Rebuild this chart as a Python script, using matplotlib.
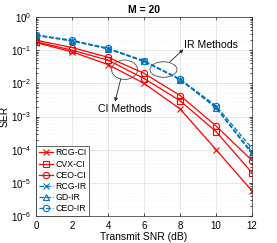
import numpy as np
import matplotlib
matplotlib.use("Agg")
import matplotlib.pyplot as plt
from matplotlib.patches import Ellipse

plt.rcParams['font.family'] = ['Liberation Sans', 'DejaVu Sans']

snr = [0, 2, 4, 6, 8, 10, 12]
rcg_ci = [0.17, 0.089, 0.037, 0.010, 0.0017, 1.0e-4, 5.7e-6]
cvx_ci = [0.18, 0.10, 0.050, 0.014, 0.0030, 3.5e-4, 2.0e-5]
ceo_ci = [0.20, 0.12, 0.061, 0.020, 0.0043, 5.2e-4, 4.7e-5]
rcg_ir = [0.28, 0.19, 0.11, 0.046, 0.013, 0.0019, 8.3e-5]
gd_ir = [0.28, 0.19, 0.11, 0.046, 0.013, 0.0018, 7.4e-5]
ceo_ir = [0.29, 0.20, 0.115, 0.048, 0.0135, 0.0021, 1.1e-4]
labels = ['RCG-CI', 'CVX-CI', 'CEO-CI', 'RCG-IR', 'GD-IR', 'CEO-IR']

red = (1, 0, 0)
blue = (0, 0.447, 0.741)

fig = plt.figure(figsize=(2.77, 2.43), dpi=100)
ax = fig.add_axes([0.13, 0.111, 0.78, 0.819])

lw = 0.9
ms = 4
ax.semilogy(snr, rcg_ci, '-x', color=red, lw=lw, ms=ms, mew=0.8, label=labels[0])
ax.semilogy(snr, cvx_ci, '-s', color=red, lw=lw, ms=ms, mew=0.8, mfc='none', label=labels[1])
ax.semilogy(snr, ceo_ci, '-o', color=red, lw=lw, ms=ms + 0.5, mew=0.8, mfc='none', label=labels[2])
ax.semilogy(snr, rcg_ir, '--x', color=blue, lw=lw, ms=ms, mew=0.8, label=labels[3])
ax.semilogy(snr, gd_ir, '--^', color=blue, lw=lw, ms=ms, mew=0.8, mfc='none', label=labels[4])
ax.semilogy(snr, ceo_ir, '--o', color=blue, lw=lw, ms=ms + 0.5, mew=0.8, mfc='none', label=labels[5])

ax.set_xlim(0, 12)
ax.set_ylim(1e-6, 1)
ax.set_xticks([0, 2, 4, 6, 8, 10, 12])
ax.set_yticks([1e-6, 1e-5, 1e-4, 1e-3, 1e-2, 1e-1, 1])
ax.tick_params(which='both', direction='in', top=True, right=True, labelsize=7, length=2.5, width=0.5)
ax.tick_params(which='minor', length=1.5)
ax.grid(True, which='major', color='#dddddd', lw=0.5)
ax.grid(True, which='minor', color='#eeeeee', lw=0.4, ls=':')
for s in ax.spines.values():
    s.set_linewidth(0.5)
    s.set_color('#262626')

ax.set_xlabel('Transmit SNR (dB)', fontsize=7.5, labelpad=1)
ax.set_ylabel('SER', fontsize=7.5, labelpad=1)
ax.set_title('M = 20', fontsize=7.5, fontweight='bold', pad=3)

# annotations (axes-fraction coordinates)
T = ax.transAxes
ax.add_patch(Ellipse((0.59, 0.736), 0.125, 0.078, transform=T, fill=False, ec='#444444', lw=0.6))
ax.add_patch(Ellipse((0.41, 0.735), 0.12, 0.097, transform=T, fill=False, ec='#444444', lw=0.6))
arrow = dict(arrowstyle='-|>', color='#222222', lw=0.6, mutation_scale=5, shrinkA=0, shrinkB=0)
ax.annotate('', xy=(0.682, 0.837), xytext=(0.62, 0.775), xycoords=T, textcoords=T, arrowprops=arrow)
ax.annotate('', xy=(0.366, 0.575), xytext=(0.392, 0.688), xycoords=T, textcoords=T, arrowprops=arrow)
ax.text(0.683, 0.859, 'IR Methods', transform=T, fontsize=7.6, ha='left', va='center')
ax.text(0.41, 0.536, 'CI Methods', transform=T, fontsize=7.6, ha='center', va='center')

leg = ax.legend(loc='lower left', fontsize=6.3, handlelength=1.6, handletextpad=0.3,
                borderpad=0.3, labelspacing=0.25, borderaxespad=0.0,
                fancybox=False, framealpha=1, edgecolor='#262626')
leg.get_frame().set_linewidth(0.5)

fig.savefig('out.png', dpi=100)
